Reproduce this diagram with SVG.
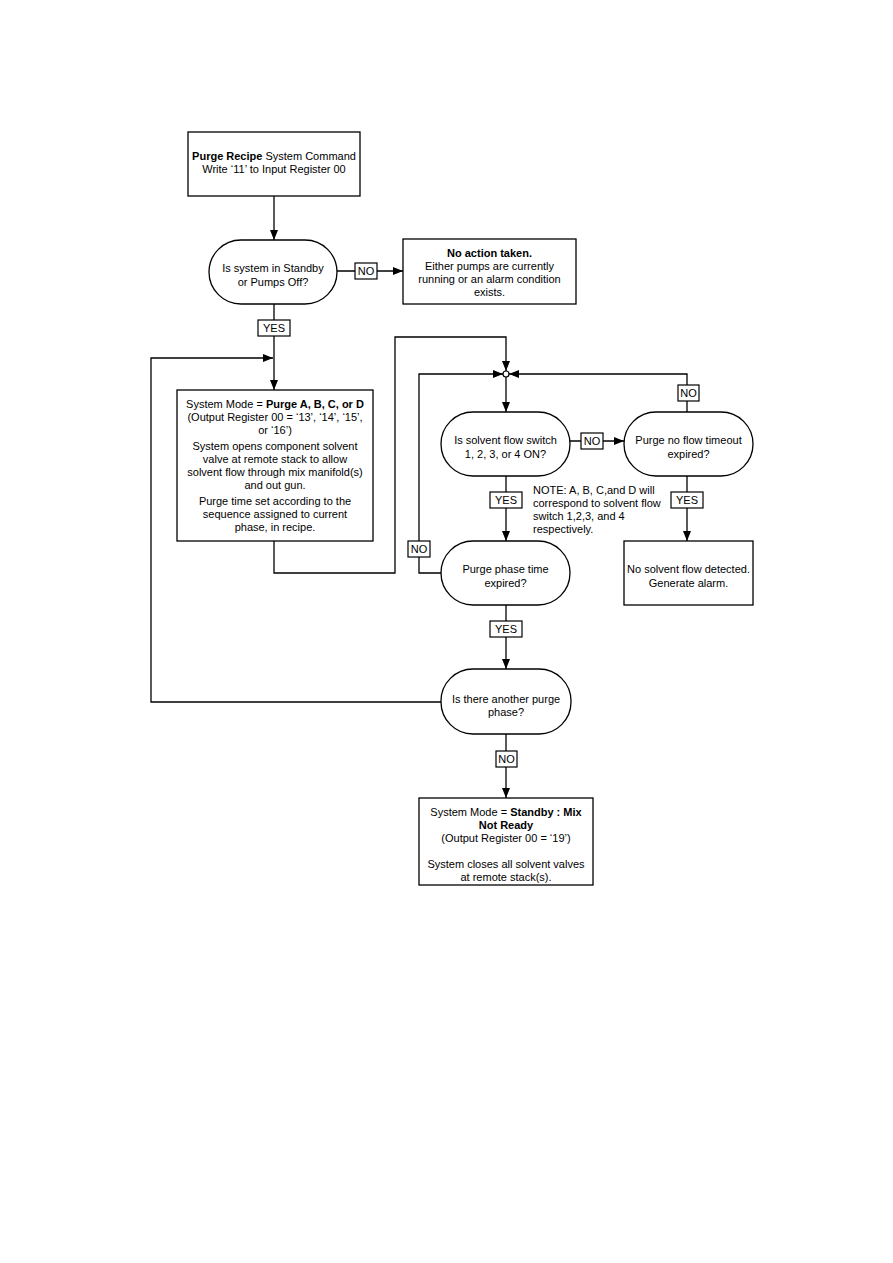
<svg xmlns="http://www.w3.org/2000/svg" width="893" height="1263" viewBox="0 0 893 1263">
<defs>
<marker id="ah" markerWidth="10" markerHeight="8" refX="10" refY="4" orient="auto" markerUnits="userSpaceOnUse">
<path d="M0,0 L10,4 L0,8 z" fill="#000"/>
</marker>
<style>
.box{fill:#fff;stroke:#000;stroke-width:1.3}
.lbl{fill:#fff;stroke:#000;stroke-width:1.2}
.ln{fill:none;stroke:#000;stroke-width:1.3}
text{font-family:"Liberation Sans",Arial,sans-serif;font-size:11px;fill:#000}
.c{text-anchor:middle}
.b{font-weight:bold}
</style>
</defs>
<rect width="893" height="1263" fill="#fff"/>
<g id="connectors">
<path class="ln" d="M274,196 V240" marker-end="url(#ah)"/>
<path class="ln" d="M337,271 H403" marker-end="url(#ah)"/>
<path class="ln" d="M274,304 V390" marker-end="url(#ah)"/>
<path class="ln" d="M442,702 H151 V358 H273" marker-end="url(#ah)"/>
<path class="ln" d="M274,541 V573 H395 V337 H506 V371" marker-end="url(#ah)"/>
<path class="ln" d="M442,573 H419 V374 H503" marker-end="url(#ah)"/>
<path class="ln" d="M687,412 V374 H509" marker-end="url(#ah)"/>
<path class="ln" d="M506,377 V412" marker-end="url(#ah)"/>
<circle cx="506" cy="374" r="3" fill="#fff" stroke="#000" stroke-width="1.2"/>
<path class="ln" d="M570,441 H624" marker-end="url(#ah)"/>
<path class="ln" d="M687,476 V541" marker-end="url(#ah)"/>
<path class="ln" d="M506,476 V541" marker-end="url(#ah)"/>
<path class="ln" d="M506,605 V669" marker-end="url(#ah)"/>
<path class="ln" d="M506,734 V798" marker-end="url(#ah)"/>
<g id="labels">
<rect class="lbl" x="355" y="263" width="22" height="16"/><text class="c" x="366" y="275">NO</text>
<rect class="lbl" x="258" y="320" width="32" height="16"/><text class="c" x="274" y="332">YES</text>
<rect class="lbl" x="408" y="541" width="22" height="16"/><text class="c" x="419" y="553">NO</text>
<rect class="lbl" x="678" y="385" width="21" height="16"/><text class="c" x="688.500" y="397">NO</text>
<rect class="lbl" x="581" y="433" width="22" height="16"/><text class="c" x="592" y="445">NO</text>
<rect class="lbl" x="490" y="492" width="32" height="16"/><text class="c" x="506" y="504">YES</text>
<rect class="lbl" x="671" y="492" width="32" height="16"/><text class="c" x="687" y="504">YES</text>
<rect class="lbl" x="490" y="621" width="32" height="16"/><text class="c" x="506" y="633">YES</text>
<rect class="lbl" x="496" y="751" width="21" height="16"/><text class="c" x="506.500" y="763">NO</text>
</g>
</g>
<g id="start">
<rect class="box" x="188" y="132" width="172" height="64"/>
<text class="c" x="274" y="160"><tspan class="b">Purge Recipe</tspan> System Command</text>
<text class="c" x="274" y="173">Write ‘11’ to Input Register 00</text>
</g>
<g id="dec-standby">
<rect class="box" x="209" y="240" width="128" height="64" rx="32"/>
<text class="c" x="273" y="272">Is system in Standby</text>
<text class="c" x="273" y="286">or Pumps Off?</text>
</g>
<g id="no-action">
<rect class="box" x="403" y="239" width="173" height="65"/>
<text class="c b" x="489.500" y="257">No action taken.</text>
<text class="c" x="489.500" y="270">Either pumps are currently</text>
<text class="c" x="489.500" y="283">running or an alarm condition</text>
<text class="c" x="489.500" y="296">exists.</text>
</g>
<g id="purge-mode">
<rect class="box" x="177" y="390" width="196" height="151"/>
<text class="c" x="275" y="408">System Mode = <tspan class="b">Purge A, B, C, or D</tspan></text>
<text class="c" x="275" y="421">(Output Register 00 = ‘13’, ‘14’, ‘15’,</text>
<text class="c" x="275" y="434">or ‘16’)</text>
<text class="c" x="275" y="450">System opens component solvent</text>
<text class="c" x="275" y="463">valve at remote stack to allow</text>
<text class="c" x="275" y="476">solvent flow through mix manifold(s)</text>
<text class="c" x="275" y="489">and out gun.</text>
<text class="c" x="275" y="505">Purge time set according to the</text>
<text class="c" x="275" y="518">sequence assigned to current</text>
<text class="c" x="275" y="531">phase, in recipe.</text>
</g>
<g id="dec-flow">
<rect class="box" x="441" y="412" width="129" height="64" rx="32"/>
<text class="c" x="505.500" y="444">Is solvent flow switch</text>
<text class="c" x="505.500" y="458">1, 2, 3, or 4 ON?</text>
</g>
<g id="dec-timeout">
<rect class="box" x="624" y="412" width="129" height="64" rx="32"/>
<text class="c" x="688.500" y="444">Purge no flow timeout</text>
<text class="c" x="688.500" y="458">expired?</text>
</g>
<g id="note">
<text x="533" y="494">NOTE: A, B, C,and D will</text>
<text x="533" y="507">correspond to solvent flow</text>
<text x="533" y="520">switch 1,2,3, and 4</text>
<text x="533" y="533">respectively.</text>
</g>
<g id="alarm">
<rect class="box" x="624" y="541" width="129" height="64"/>
<text class="c" x="688.500" y="573">No solvent flow detected.</text>
<text class="c" x="688.500" y="587">Generate alarm.</text>
</g>
<g id="dec-phase">
<rect class="box" x="441" y="541" width="129" height="64" rx="32"/>
<text class="c" x="505.500" y="573">Purge phase time</text>
<text class="c" x="505.500" y="587">expired?</text>
</g>
<g id="dec-another">
<rect class="box" x="441" y="669" width="130" height="65" rx="32"/>
<text class="c" x="506" y="703">Is there another purge</text>
<text class="c" x="506" y="716">phase?</text>
</g>
<g id="standby">
<rect class="box" x="419" y="798" width="174" height="87"/>
<text class="c" x="506" y="816">System Mode = <tspan class="b">Standby : Mix</tspan></text>
<text class="c b" x="506" y="829">Not Ready</text>
<text class="c" x="506" y="842">(Output Register 00 = ‘19’)</text>
<text class="c" x="506" y="868">System closes all solvent valves</text>
<text class="c" x="506" y="881">at remote stack(s).</text>
</g>
</svg>
